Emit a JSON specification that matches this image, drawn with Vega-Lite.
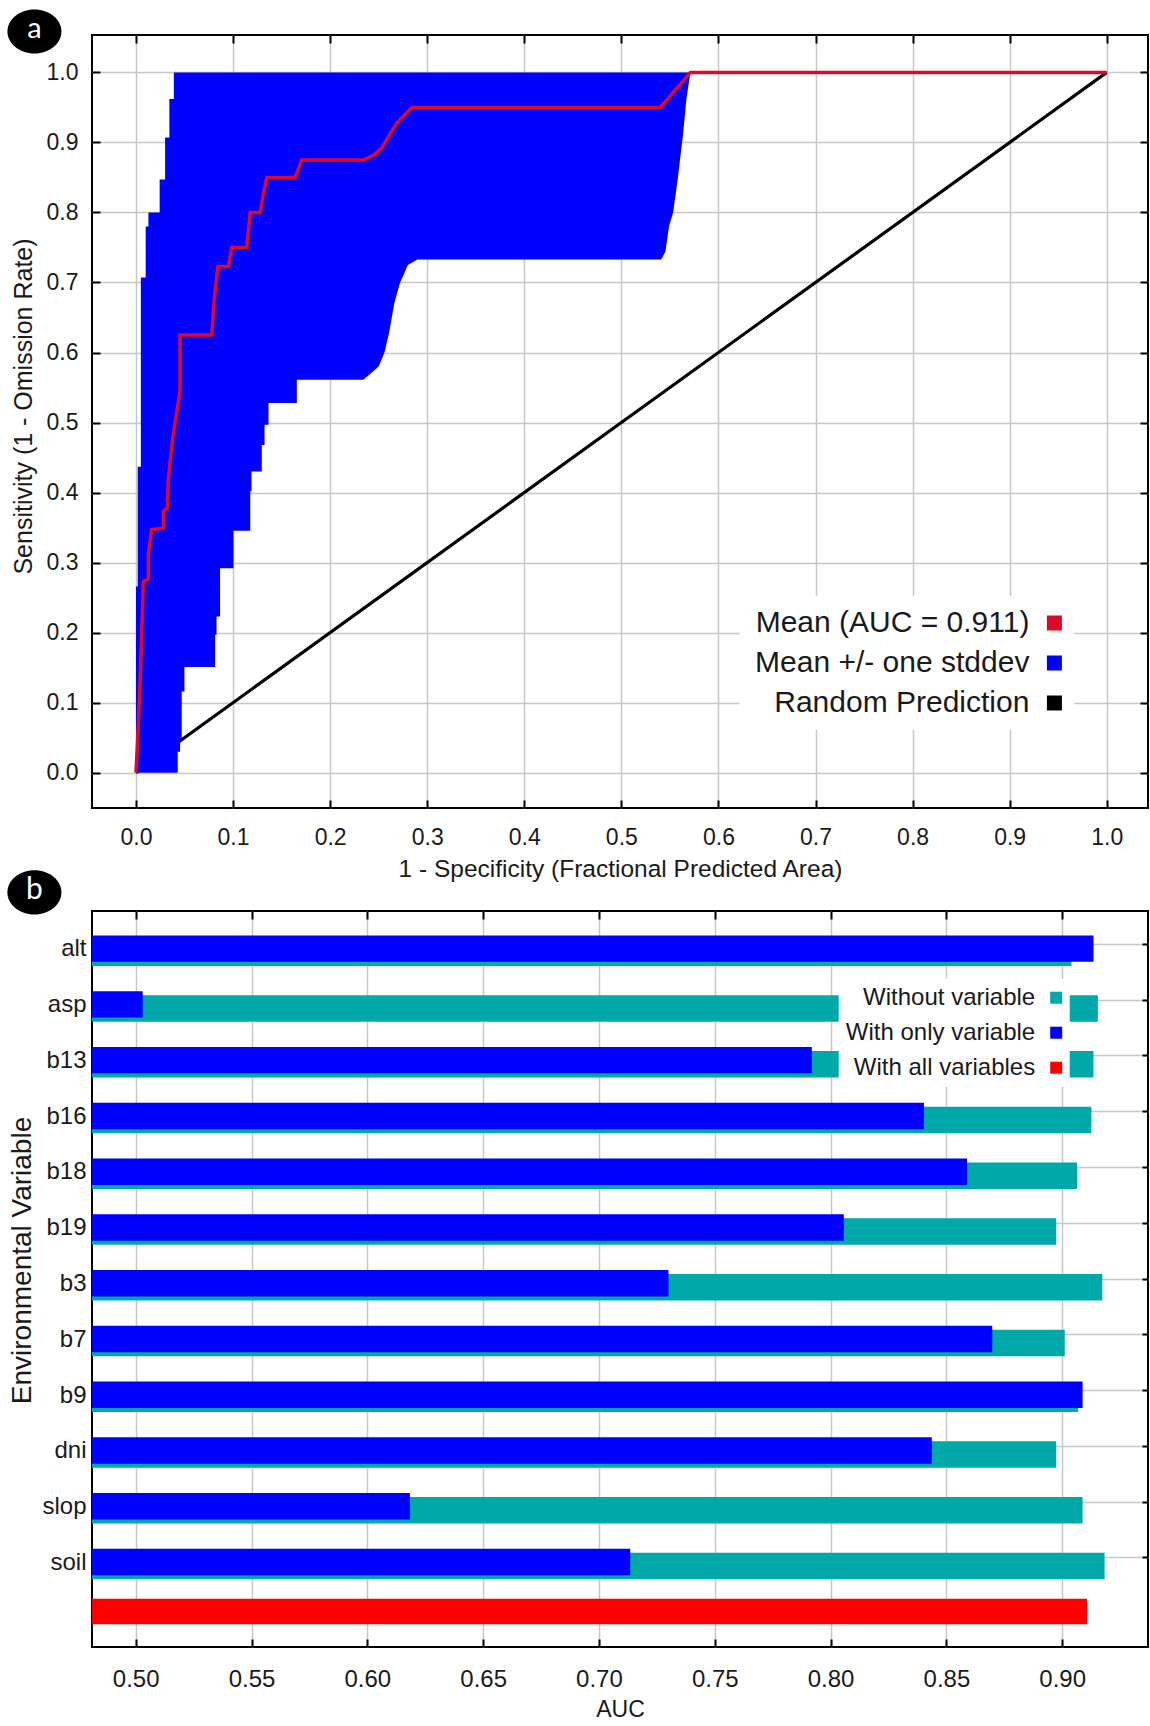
{
  "$schema": "https://vega.github.io/schema/vega-lite/v6.json",
  "padding": {"left": 6, "top": 8, "right": 0, "bottom": 0},
  "background": "white",
  "config": {"view": {"stroke": "#000000", "strokeWidth": 2}},
  "spacing": 103,
  "bounds": "flush",
  "resolve": {"scale": {"color": "independent"}, "legend": {"color": "independent"}},
  "datasets": {
    "diag": [{"fpa": 0, "sens": 0}, {"fpa": 1, "sens": 1}],
    "mean": [
      {"fpa": 0, "sens": 0}, {"fpa": 0.0018, "sens": 0.049}, {"fpa": 0.0041, "sens": 0.123}, {"fpa": 0.0059, "sens": 0.197},
      {"fpa": 0.0076, "sens": 0.273}, {"fpa": 0.0128, "sens": 0.276}, {"fpa": 0.0128, "sens": 0.314}, {"fpa": 0.0162, "sens": 0.347},
      {"fpa": 0.0282, "sens": 0.349}, {"fpa": 0.0282, "sens": 0.373}, {"fpa": 0.0323, "sens": 0.378}, {"fpa": 0.0334, "sens": 0.421},
      {"fpa": 0.0368, "sens": 0.464}, {"fpa": 0.0378, "sens": 0.478}, {"fpa": 0.0437, "sens": 0.53}, {"fpa": 0.0454, "sens": 0.545},
      {"fpa": 0.0454, "sens": 0.625}, {"fpa": 0.078, "sens": 0.625}, {"fpa": 0.0804, "sens": 0.673}, {"fpa": 0.0844, "sens": 0.723},
      {"fpa": 0.0952, "sens": 0.723}, {"fpa": 0.0987, "sens": 0.75}, {"fpa": 0.1141, "sens": 0.75}, {"fpa": 0.1176, "sens": 0.8},
      {"fpa": 0.1279, "sens": 0.8}, {"fpa": 0.131, "sens": 0.825}, {"fpa": 0.1347, "sens": 0.85}, {"fpa": 0.164, "sens": 0.85},
      {"fpa": 0.1708, "sens": 0.875}, {"fpa": 0.2344, "sens": 0.875}, {"fpa": 0.245, "sens": 0.882}, {"fpa": 0.253, "sens": 0.892},
      {"fpa": 0.2688, "sens": 0.928}, {"fpa": 0.2842, "sens": 0.95}, {"fpa": 0.54, "sens": 0.95}, {"fpa": 0.5557, "sens": 0.975},
      {"fpa": 0.5711, "sens": 1.0}, {"fpa": 1.0, "sens": 1.0}
    ],
    "band": [
      {"s": 0, "lo": 0, "hi": 0.043}, {"s": 0.03, "lo": 0, "hi": 0.043}, {"s": 0.03, "lo": 0, "hi": 0.0454},
      {"s": 0.047, "lo": 0, "hi": 0.0454}, {"s": 0.047, "lo": 0, "hi": 0.0471}, {"s": 0.116, "lo": 0, "hi": 0.0471},
      {"s": 0.116, "lo": 0, "hi": 0.0499}, {"s": 0.151, "lo": 0, "hi": 0.0499}, {"s": 0.151, "lo": 0, "hi": 0.0815},
      {"s": 0.197, "lo": 0, "hi": 0.0815}, {"s": 0.197, "lo": 0, "hi": 0.083}, {"s": 0.223, "lo": 0, "hi": 0.083},
      {"s": 0.223, "lo": 0, "hi": 0.0866}, {"s": 0.266, "lo": 0, "hi": 0.0866}, {"s": 0.266, "lo": 0.0018, "hi": 0.0866},
      {"s": 0.292, "lo": 0.0018, "hi": 0.0866}, {"s": 0.292, "lo": 0.0018, "hi": 0.1004}, {"s": 0.3456, "lo": 0.0018, "hi": 0.1004},
      {"s": 0.3456, "lo": 0.0018, "hi": 0.1177}, {"s": 0.402, "lo": 0.0018, "hi": 0.1177}, {"s": 0.402, "lo": 0.0018, "hi": 0.119},
      {"s": 0.43, "lo": 0.0018, "hi": 0.119}, {"s": 0.43, "lo": 0.0018, "hi": 0.1296}, {"s": 0.437, "lo": 0.0018, "hi": 0.1296},
      {"s": 0.437, "lo": 0.005, "hi": 0.1296}, {"s": 0.468, "lo": 0.005, "hi": 0.1296}, {"s": 0.468, "lo": 0.005, "hi": 0.1324},
      {"s": 0.497, "lo": 0.005, "hi": 0.1324}, {"s": 0.497, "lo": 0.005, "hi": 0.1365}, {"s": 0.528, "lo": 0.005, "hi": 0.1365},
      {"s": 0.528, "lo": 0.005, "hi": 0.1657}, {"s": 0.561, "lo": 0.005, "hi": 0.1657}, {"s": 0.561, "lo": 0.005, "hi": 0.234},
      {"s": 0.568, "lo": 0.005, "hi": 0.24}, {"s": 0.58, "lo": 0.005, "hi": 0.25}, {"s": 0.6, "lo": 0.005, "hi": 0.256},
      {"s": 0.63, "lo": 0.005, "hi": 0.261}, {"s": 0.67, "lo": 0.005, "hi": 0.266}, {"s": 0.7, "lo": 0.005, "hi": 0.272},
      {"s": 0.707, "lo": 0.005, "hi": 0.2745}, {"s": 0.707, "lo": 0.01, "hi": 0.2745}, {"s": 0.725, "lo": 0.01, "hi": 0.28},
      {"s": 0.733, "lo": 0.01, "hi": 0.29}, {"s": 0.733, "lo": 0.01, "hi": 0.541}, {"s": 0.744, "lo": 0.01, "hi": 0.5454},
      {"s": 0.78, "lo": 0.01, "hi": 0.549}, {"s": 0.78, "lo": 0.0128, "hi": 0.549}, {"s": 0.8, "lo": 0.0128, "hi": 0.5533},
      {"s": 0.8, "lo": 0.0244, "hi": 0.5533}, {"s": 0.847, "lo": 0.0244, "hi": 0.558}, {"s": 0.847, "lo": 0.03, "hi": 0.558},
      {"s": 0.901, "lo": 0.03, "hi": 0.5626}, {"s": 0.907, "lo": 0.03, "hi": 0.5632}, {"s": 0.907, "lo": 0.0344, "hi": 0.5632},
      {"s": 0.962, "lo": 0.0344, "hi": 0.567}, {"s": 0.962, "lo": 0.039, "hi": 0.567}, {"s": 1.0, "lo": 0.039, "hi": 0.5711}
    ],
    "jk": [
      {"var": "alt", "without": 0.904, "only": 0.9135},
      {"var": "asp", "without": 0.9154, "only": 0.503},
      {"var": "b13", "without": 0.9135, "only": 0.7919},
      {"var": "b16", "without": 0.9126, "only": 0.8403},
      {"var": "b18", "without": 0.9064, "only": 0.8589},
      {"var": "b19", "without": 0.8974, "only": 0.8057},
      {"var": "b3", "without": 0.9173, "only": 0.73},
      {"var": "b7", "without": 0.9011, "only": 0.8698},
      {"var": "b9", "without": 0.9069, "only": 0.9088},
      {"var": "dni", "without": 0.8974, "only": 0.8437},
      {"var": "slop", "without": 0.9088, "only": 0.6184},
      {"var": "soil", "without": 0.9183, "only": 0.7135}
    ],
    "allv": [{"var": " ", "all": 0.9107}],
    "one": [{}]
  },
  "vconcat": [
    {
      "width": 1056,
      "height": 773,
      "layer": [
        {
          "data": {"name": "diag"},
          "mark": {"type": "line", "strokeWidth": 3.2},
          "encoding": {
            "x": {"field": "fpa", "type": "quantitative", "scale": {"domain": [-0.0453, 1.0425], "nice": false, "zero": false},
              "axis": {"orient": "top", "values": [0, 0.1, 0.2, 0.3, 0.4, 0.5, 0.6, 0.7, 0.8, 0.9, 1], "labels": false, "grid": false, "domain": false, "ticks": true, "tickSize": -8, "tickWidth": 2, "tickColor": "#000000", "title": null}},
            "y": {"field": "sens", "type": "quantitative", "scale": {"domain": [-0.0504, 1.0534], "nice": false, "zero": false},
              "axis": {"orient": "right", "values": [0, 0.1, 0.2, 0.3, 0.4, 0.5, 0.6, 0.7, 0.8, 0.9, 1], "labels": false, "grid": false, "domain": false, "ticks": true, "tickSize": -8, "tickWidth": 2, "tickColor": "#000000", "title": null}},
            "order": {"value": null},
            "color": {"datum": "Random Prediction", "type": "nominal",
              "scale": {"domain": ["Mean (AUC = 0.911)", "Mean +/- one stddev", "Random Prediction"], "range": ["#dc0a28", "#0000ff", "#000000"]},
              "legend": {"orient": "none", "legendX": 647.4, "legendY": 561, "title": null, "direction": "vertical", "labelAlign": "right", "labelOffset": -40, "symbolOffset": 288, "labelFont": "Liberation Sans", "labelFontSize": 30, "labelColor": "#1a1a1a", "labelLimit": 0, "symbolType": "square", "symbolSize": 225, "symbolStrokeWidth": 0, "rowPadding": 10, "padding": 12, "fillColor": "#ffffff",
                "encode": {"symbols": {"update": {"fill": [{"test": "datum.value === 'Mean (AUC = 0.911)'", "value": "#ff0000"}, {"test": "datum.value === 'Mean +/- one stddev'", "value": "#0000ff"}, {"value": "#000000"}], "stroke": {"value": "transparent"}, "shape": {"value": "square"}, "opacity": {"value": 1}, "fillOpacity": {"value": 1}}}}}}
          }
        },
        {
          "data": {"name": "band"},
          "mark": {"type": "area", "orient": "horizontal", "interpolate": "linear", "opacity": 1},
          "encoding": {
            "y": {"field": "s", "type": "quantitative", "scale": {"domain": [-0.0504, 1.0534], "nice": false, "zero": false},
              "axis": {"orient": "left", "values": [0, 0.1, 0.2, 0.3, 0.4, 0.5, 0.6, 0.7, 0.8, 0.9, 1], "format": ".1f", "grid": true, "gridColor": "#c8c8c8", "gridWidth": 1.5, "domain": false, "ticks": true, "tickSize": -8, "tickWidth": 2, "tickColor": "#000000", "labelFont": "Liberation Sans", "labelFontSize": 23, "labelColor": "#1a1a1a", "labelPadding": 22, "labelFlush": false, "labelOverlap": false, "title": "Sensitivity (1 - Omission Rate)", "titleFont": "Liberation Sans", "titleFontSize": 25, "titleFontWeight": "normal", "titleColor": "#1a1a1a", "titlePadding": 10, "titleY": 371}},
            "x": {"field": "lo", "type": "quantitative", "scale": {"domain": [-0.0453, 1.0425], "nice": false, "zero": false},
              "axis": {"orient": "bottom", "values": [0, 0.1, 0.2, 0.3, 0.4, 0.5, 0.6, 0.7, 0.8, 0.9, 1], "format": ".1f", "grid": true, "gridColor": "#c8c8c8", "gridWidth": 1.5, "domain": false, "ticks": true, "tickSize": -8, "tickWidth": 2, "tickColor": "#000000", "labelFont": "Liberation Sans", "labelFontSize": 23, "labelColor": "#1a1a1a", "labelPadding": 26.7, "labelFlush": false, "labelOverlap": false, "title": "1 - Specificity (Fractional Predicted Area)", "titleFont": "Liberation Sans", "titleFontSize": 24.5, "titleFontWeight": "normal", "titleColor": "#1a1a1a", "titlePadding": 8}},
            "x2": {"field": "hi"},
            "order": {"value": null},
            "color": {"datum": "Mean +/- one stddev", "type": "nominal",
              "scale": {"domain": ["Mean (AUC = 0.911)", "Mean +/- one stddev", "Random Prediction"], "range": ["#dc0a28", "#0000ff", "#000000"]},
              "legend": {"orient": "none", "legendX": 647.4, "legendY": 561, "title": null, "direction": "vertical", "labelAlign": "right", "labelOffset": -40, "symbolOffset": 288, "labelFont": "Liberation Sans", "labelFontSize": 30, "labelColor": "#1a1a1a", "labelLimit": 0, "symbolType": "square", "symbolSize": 225, "symbolStrokeWidth": 0, "rowPadding": 10, "padding": 12, "fillColor": "#ffffff",
                "encode": {"symbols": {"update": {"fill": [{"test": "datum.value === 'Mean (AUC = 0.911)'", "value": "#ff0000"}, {"test": "datum.value === 'Mean +/- one stddev'", "value": "#0000ff"}, {"value": "#000000"}], "stroke": {"value": "transparent"}, "shape": {"value": "square"}, "opacity": {"value": 1}, "fillOpacity": {"value": 1}}}}}}
          }
        },
        {
          "data": {"name": "mean"},
          "mark": {"type": "line", "strokeWidth": 3.5},
          "encoding": {
            "x": {"field": "fpa", "type": "quantitative", "scale": {"domain": [-0.0453, 1.0425], "nice": false, "zero": false}, "axis": null},
            "y": {"field": "sens", "type": "quantitative", "scale": {"domain": [-0.0504, 1.0534], "nice": false, "zero": false}, "axis": null},
            "order": {"value": null},
            "color": {"datum": "Mean (AUC = 0.911)", "type": "nominal",
              "scale": {"domain": ["Mean (AUC = 0.911)", "Mean +/- one stddev", "Random Prediction"], "range": ["#dc0a28", "#0000ff", "#000000"]},
              "legend": {"orient": "none", "legendX": 647.4, "legendY": 561, "title": null, "direction": "vertical", "labelAlign": "right", "labelOffset": -40, "symbolOffset": 288, "labelFont": "Liberation Sans", "labelFontSize": 30, "labelColor": "#1a1a1a", "labelLimit": 0, "symbolType": "square", "symbolSize": 225, "symbolStrokeWidth": 0, "rowPadding": 10, "padding": 12, "fillColor": "#ffffff",
                "encode": {"symbols": {"update": {"fill": [{"test": "datum.value === 'Mean (AUC = 0.911)'", "value": "#ff0000"}, {"test": "datum.value === 'Mean +/- one stddev'", "value": "#0000ff"}, {"value": "#000000"}], "stroke": {"value": "transparent"}, "shape": {"value": "square"}, "opacity": {"value": 1}, "fillOpacity": {"value": 1}}}}}}
          }
        },
        {
          "data": {"name": "one"},
          "mark": {"type": "point", "shape": "M-1,0C-1,-0.45,-0.552,-0.815,0,-0.815C0.552,-0.815,1,-0.45,1,0C1,0.45,0.552,0.815,0,0.815C-0.552,0.815,-1,0.45,-1,0Z", "size": 2916, "filled": true, "color": "#000000", "opacity": 1, "strokeWidth": 0},
          "encoding": {
            "x": {"datum": -0.1046, "type": "quantitative", "scale": {"domain": [-0.0453, 1.0425], "nice": false, "zero": false}, "axis": null},
            "y": {"datum": 1.0585, "type": "quantitative", "scale": {"domain": [-0.0504, 1.0534], "nice": false, "zero": false}, "axis": null}
          }
        },
        {
          "data": {"name": "one"},
          "mark": {"type": "text", "text": "a", "font": "Lato", "fontSize": 29, "color": "#ffffff", "align": "center", "baseline": "middle", "dy": -2},
          "encoding": {
            "x": {"datum": -0.1046, "type": "quantitative", "scale": {"domain": [-0.0453, 1.0425], "nice": false, "zero": false}, "axis": null},
            "y": {"datum": 1.0585, "type": "quantitative", "scale": {"domain": [-0.0504, 1.0534], "nice": false, "zero": false}, "axis": null}
          }
        }
      ],
      "resolve": {"axis": {"x": "independent", "y": "independent"}}
    },
    {
      "width": 1056,
      "height": 736,
      "layer": [
        {
          "layer": [
            {
              "data": {"name": "jk"},
              "mark": {"type": "bar", "height": 26.5, "yOffset": 8.3, "clip": true},
              "encoding": {
                "y": {"field": "var", "type": "nominal", "scale": {"domain": ["alt", "asp", "b13", "b16", "b18", "b19", "b3", "b7", "b9", "dni", "slop", "soil", " "], "paddingOuter": 0.1, "paddingInner": 0},
                  "axis": {"orient": "left", "values": ["alt", "asp", "b13", "b16", "b18", "b19", "b3", "b7", "b9", "dni", "slop", "soil"], "bandPosition": 0.5, "grid": true, "gridColor": "#c8c8c8", "gridWidth": 1.5, "domain": false, "ticks": false, "labelFont": "Liberation Sans", "labelFontSize": 24, "labelColor": "#1a1a1a", "labelPadding": 6, "labelOffset": 5, "labelBaseline": "middle", "title": "Environmental Variable", "titleFont": "Liberation Sans", "titleFontSize": 28, "titleFontWeight": "normal", "titleColor": "#1a1a1a", "titlePadding": 5, "titleY": 349}},
                "x": {"field": "without", "type": "quantitative", "scale": {"domain": [0.48113, 0.93704], "nice": false, "zero": false},
                  "axis": {"orient": "bottom", "values": [0.5, 0.55, 0.6, 0.65, 0.7, 0.75, 0.8, 0.85, 0.9], "format": ".2f", "grid": true, "gridColor": "#c8c8c8", "gridWidth": 1.5, "domain": false, "ticks": true, "tickSize": -8, "tickWidth": 2, "tickColor": "#000000", "labelFont": "Liberation Sans", "labelFontSize": 24, "labelColor": "#1a1a1a", "labelPadding": 28, "labelFlush": false, "labelOverlap": false, "title": "AUC", "titleFont": "Liberation Sans", "titleFontSize": 23, "titleFontWeight": "normal", "titleColor": "#1a1a1a", "titlePadding": 7}},
                "color": {"datum": "Without variable", "type": "nominal",
                  "scale": {"domain": ["Without variable", "With only variable", "With all variables"], "range": ["#00a8a8", "#0000ff", "#ff0000"]},
                  "legend": {"orient": "none", "legendX": 746.7, "legendY": 67.7, "title": null, "direction": "vertical", "labelAlign": "right", "labelOffset": -33, "symbolOffset": 198.5, "labelFont": "Liberation Sans", "labelFontSize": 24, "labelColor": "#1a1a1a", "labelLimit": 0, "symbolType": "square", "symbolSize": 144, "symbolStrokeWidth": 0, "rowPadding": 11, "padding": 7, "fillColor": "#ffffff",
                    "encode": {"symbols": {"update": {"fill": [{"test": "datum.value === 'Without variable'", "value": "#00a8a8"}, {"test": "datum.value === 'With only variable'", "value": "#0000ff"}, {"value": "#ff0000"}], "stroke": {"value": "transparent"}, "shape": {"value": "square"}, "opacity": {"value": 1}, "fillOpacity": {"value": 1}}}}}}
              }
            },
            {
              "data": {"name": "jk"},
              "mark": {"type": "bar", "height": 26.4, "yOffset": 4.2, "clip": true},
              "encoding": {
                "y": {"field": "var", "type": "nominal", "scale": {"domain": ["alt", "asp", "b13", "b16", "b18", "b19", "b3", "b7", "b9", "dni", "slop", "soil", " "], "paddingOuter": 0.1, "paddingInner": 0}, "axis": null},
                "x": {"field": "only", "type": "quantitative", "scale": {"domain": [0.48113, 0.93704], "nice": false, "zero": false}, "axis": null},
                "color": {"datum": "With only variable", "type": "nominal",
                  "scale": {"domain": ["Without variable", "With only variable", "With all variables"], "range": ["#00a8a8", "#0000ff", "#ff0000"]},
                  "legend": {"orient": "none", "legendX": 746.7, "legendY": 67.7, "title": null, "direction": "vertical", "labelAlign": "right", "labelOffset": -33, "symbolOffset": 198.5, "labelFont": "Liberation Sans", "labelFontSize": 24, "labelColor": "#1a1a1a", "labelLimit": 0, "symbolType": "square", "symbolSize": 144, "symbolStrokeWidth": 0, "rowPadding": 11, "padding": 7, "fillColor": "#ffffff",
                    "encode": {"symbols": {"update": {"fill": [{"test": "datum.value === 'Without variable'", "value": "#00a8a8"}, {"test": "datum.value === 'With only variable'", "value": "#0000ff"}, {"value": "#ff0000"}], "stroke": {"value": "transparent"}, "shape": {"value": "square"}, "opacity": {"value": 1}, "fillOpacity": {"value": 1}}}}}}
              }
            },
            {
              "data": {"name": "allv"},
              "mark": {"type": "bar", "height": 25.6, "yOffset": -2.1, "clip": true},
              "encoding": {
                "y": {"field": "var", "type": "nominal", "scale": {"domain": ["alt", "asp", "b13", "b16", "b18", "b19", "b3", "b7", "b9", "dni", "slop", "soil", " "], "paddingOuter": 0.1, "paddingInner": 0},
                  "axis": {"orient": "right", "values": ["alt", "asp", "b13", "b16", "b18", "b19", "b3", "b7", "b9", "dni", "slop", "soil"], "bandPosition": 0.5, "labels": false, "grid": false, "domain": false, "ticks": true, "tickSize": -6, "tickWidth": 2, "tickColor": "#000000", "title": null}},
                "x": {"field": "all", "type": "quantitative", "scale": {"domain": [0.48113, 0.93704], "nice": false, "zero": false},
                  "axis": {"orient": "top", "values": [0.5, 0.55, 0.6, 0.65, 0.7, 0.75, 0.8, 0.85, 0.9], "labels": false, "grid": false, "domain": false, "ticks": true, "tickSize": -8, "tickWidth": 2, "tickColor": "#000000", "title": null}},
                "color": {"datum": "With all variables", "type": "nominal",
                  "scale": {"domain": ["Without variable", "With only variable", "With all variables"], "range": ["#00a8a8", "#0000ff", "#ff0000"]},
                  "legend": {"orient": "none", "legendX": 746.7, "legendY": 67.7, "title": null, "direction": "vertical", "labelAlign": "right", "labelOffset": -33, "symbolOffset": 198.5, "labelFont": "Liberation Sans", "labelFontSize": 24, "labelColor": "#1a1a1a", "labelLimit": 0, "symbolType": "square", "symbolSize": 144, "symbolStrokeWidth": 0, "rowPadding": 11, "padding": 7, "fillColor": "#ffffff",
                    "encode": {"symbols": {"update": {"fill": [{"test": "datum.value === 'Without variable'", "value": "#00a8a8"}, {"test": "datum.value === 'With only variable'", "value": "#0000ff"}, {"value": "#ff0000"}], "stroke": {"value": "transparent"}, "shape": {"value": "square"}, "opacity": {"value": 1}, "fillOpacity": {"value": 1}}}}}}
              }
            }
          ],
          "resolve": {"axis": {"x": "independent", "y": "independent"}}
        },
        {
          "data": {"name": "one"},
          "mark": {"type": "point", "shape": "M-1,0C-1,-0.45,-0.552,-0.815,0,-0.815C0.552,-0.815,1,-0.45,1,0C1,0.45,0.552,0.815,0,0.815C-0.552,0.815,-1,0.45,-1,0Z", "size": 2916, "filled": true, "color": "#000000", "opacity": 1, "strokeWidth": 0},
          "encoding": {
            "x": {"datum": 0.45626, "type": "quantitative", "scale": {"domain": [0.48113, 0.93704], "nice": false, "zero": false}, "axis": null},
            "y": {"datum": 1.0253, "type": "quantitative", "scale": {"domain": [0, 1], "nice": false, "zero": false}, "axis": null}
          }
        },
        {
          "data": {"name": "one"},
          "mark": {"type": "text", "text": "b", "font": "Lato", "fontSize": 30, "color": "#ffffff", "align": "center", "baseline": "middle", "dy": -2},
          "encoding": {
            "x": {"datum": 0.45626, "type": "quantitative", "scale": {"domain": [0.48113, 0.93704], "nice": false, "zero": false}, "axis": null},
            "y": {"datum": 1.0253, "type": "quantitative", "scale": {"domain": [0, 1], "nice": false, "zero": false}, "axis": null}
          }
        }
      ],
      "resolve": {"scale": {"y": "independent"}}
    }
  ]
}
